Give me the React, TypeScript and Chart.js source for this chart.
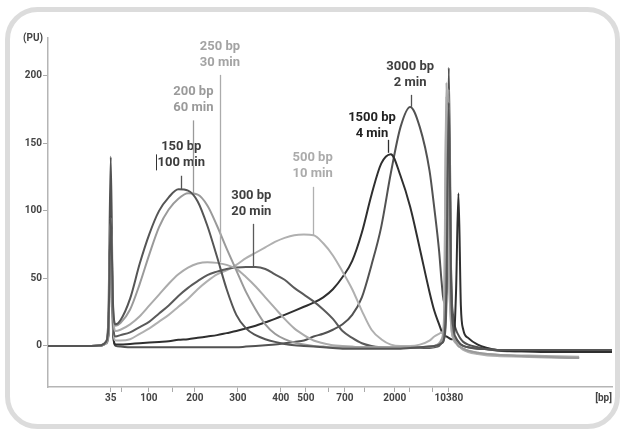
import { useEffect, useRef } from 'react';
import { Chart, registerables } from 'chart.js';

Chart.register(...registerables);

// migration time (s) sample grid
const timeGrid = [27, 30, 33, 36, 38, 39, 39.5, 40, 40.5, 41, 42, 44, 46, 48, 50, 52, 54, 56, 58, 60, 62, 64, 66, 68, 70, 72, 74, 76, 78, 80, 82, 84, 86, 88, 90, 92, 94, 96, 98, 100, 102, 104, 106, 107, 108, 108.5, 109, 109.5, 110, 110.5, 111, 111.5, 112, 112.5, 113, 114, 116, 118, 120, 125, 130, 137, 143.8];

const s150 = [
  0, 0, 0, 0,
  0.5, 3, 14, 96, 28, 16,
  19, 35, 61, 83, 100, 110,
  116, 115, 107, 89, 66, 42,
  23, 13, 8, 5, 3, 1.5,
  0.5, 0, -0.5, -1, -1.5, -2,
  -2, -2, -2, -2, -2, -2,
  -1.5, -1, -0.5, 0, 1, 2,
  5, 40, 180, 40, 12, 6,
  3, 1, 0, -1, -2, -2.5,
  -3, -3, -3, -3, -3,
];
const s200 = [
  0, 0, 0, 0,
  0.5, 3, 12, 95, 26, 15,
  17, 27, 46, 68, 88, 101,
  109, 113, 112, 104, 89, 72,
  56, 40, 27, 16, 9, 5,
  2.5, 1, 0, -0.5, -1, -1,
  -1, -1, -1, -1, -1, -1,
  -1, -1, -0.5, 0, 1.5, 4,
  12, 60, 190, 30, 8, 3,
  0, -1, -2, -3.5, -5, -6,
  -6.5, -7.5, -8, -9, null,
];
const s250 = [
  0, 0, 0, 0,
  0.3, 2, 10, 95, 22, 11,
  12, 16, 22, 30, 38, 46,
  53, 58, 61, 62, 61.5, 60,
  57, 51, 44, 36, 28, 20,
  13, 8, 4, 2, 0.5, 0,
  -0.5, -1, -1, -1, -1, -1,
  -1, -1, -0.5, 0, 2, 5,
  20, 195, 60, 15, 5, 2,
  0, -1, -2, -3.5, -5, -6,
  -6.5, -7, -7.5, -8, null,
];
const s300 = [
  0, 0, 0, 0,
  0.3, 2, 8, 94, 16, 7,
  8, 10, 14, 18, 24, 30,
  37, 43, 48, 52.5, 55, 57,
  58, 58.5, 58.5, 57, 53, 49,
  43, 38, 33, 27, 20, 11,
  6, 2, 0, -1, -1.5, -1.5,
  -1.5, -1.5, -1.5, -1, 0, 2,
  5, 30, 170, 50, 10, 5,
  3, 1, 0, -1, -2, -2.5,
  -3, -3, -3, -3, -3,
];
const s500 = [
  0, 0, 0, 0,
  0.3, 1.5, 6, 93, 12, 4,
  4, 5, 9, 13, 18, 23,
  29, 35, 42, 48, 53, 56,
  60, 65, 69, 73, 77, 80,
  82, 82.5, 82, 76, 67, 55,
  42, 26, 12, 5, 1, 0,
  0, 1, 4, 7, 9, 10,
  14, 185, 60, 15, 5, 2,
  0, -1.5, -3, -4.5, -6, -7,
  -7.5, -8, -8.5, -9, null,
];
const s1500 = [
  0, 0, 0, 0,
  0.3, 2, 8, 96, 8, 1,
  1, 1.5, 2, 2.5, 3, 3.5,
  4.5, 5, 6, 7, 8, 9.5,
  11, 13, 15, 17.5, 20, 23,
  26, 29, 32, 36, 42, 51,
  63, 84, 112, 135, 142, 126,
  103, 72, 40, 26, 16, 11,
  8, 7, 6, 5, 5, 40,
  113, 30, 12, 6, 1, -1.5,
  -3, -4, -4.5, -4.5, -4.5,
];
const s3000 = [
  0, 0, 0, 0,
  0.3, 3, 20, 140, 10, 0,
  -0.5, -1, -1, -1, -1, -1,
  -1, -1, -1, -1, -1, -1,
  -1, -0.5, 0, 0.5, 1, 2,
  3, 4, 7, 9, 12, 16,
  23, 36, 60, 88, 128, 162,
  177, 162, 130, 102, 70, 48,
  32, 40, 206, 50, 20, 12,
  8, 5, 3, 1, -1, -2.5,
  -3.5, -4, -4, -4, -4,
];

const seriesList = [s150, s200, s250, s300, s500, s1500, s3000];
const seriesNames = ['150 bp', '200 bp', '250 bp', '300 bp', '500 bp', '1500 bp', '3000 bp'];
const seriesColors = ['#555555', '#9a9a9a', '#ababab', '#5a5a5a', '#b0b0b0', '#2f2f2f', '#525252'];

// x ticks (time positions) and their bp labels
const xTickPositions = [40, 42.3, 47.9, 52.8, 57.4, 66.3, 75.2, 80.4, 85.1, 88.5, 92.6, 98.8, 101.9, 106.7, 110];
const xTickLabels = ['35', '', '100', '', '200', '300', '400', '500', '', '700', '', '2000', '', '', '10380'];
const yTickValues = [0, 50, 100, 150, 200];

// peak annotations
const labelLine1 = ['150 bp', '200 bp', '250 bp', '300 bp', '500 bp', '1500 bp', '3000 bp'];
const labelLine2 = ['100 min', '60 min', '30 min', '20 min', '10 min', '4 min', '2 min'];
const calloutT = [54.6, 57.1, 62.6, 69.4, 81.8, 97.4, 102.1];
const calloutFromV = [116, 113, 62, 58.5, 81.5, 143, 177];
const calloutToV = [126, 167, 200.7, 90.4, 117.8, 152.6, 185.9];
const labelT = [54.6, 57.1, 62.6, 69.1, 81.8, 94.1, 102.0];
const labelV = [147.6, 188.1, 221.7, 111.1, 139.3, 168.7, 206.9];
const labelColors = ['#3c3c3c', '#9a9a9a', '#a3a3a3', '#404040', '#ababab', '#222222', '#404040'];

const annotPlugin = {
  id: 'annot',
  beforeDraw(chart: any) {
    const { ctx, width, height } = chart;
    ctx.save();
    ctx.fillStyle = '#ffffff';
    ctx.fillRect(0, 0, width, height);
    ctx.strokeStyle = '#dcdcdc';
    ctx.lineWidth = 5;
    ctx.beginPath();
    ctx.roundRect(7.5, 9.5, 610, 417, 30);
    ctx.stroke();
    ctx.restore();
  },
  afterDatasetsDraw(chart: any) {
    const { ctx, chartArea } = chart;
    const xs = chart.scales.x;
    const ys = chart.scales.y;
    ctx.save();
    for (let i = 0; i < labelLine1.length; i++) {
      const px = Math.round(xs.getPixelForValue(calloutT[i])) + 0.5;
      ctx.strokeStyle = seriesColors[i];
      ctx.lineWidth = 1.3;
      ctx.beginPath();
      ctx.moveTo(px, ys.getPixelForValue(calloutFromV[i]));
      ctx.lineTo(px, ys.getPixelForValue(calloutToV[i]));
      ctx.stroke();
      ctx.font = 'bold 13px Roboto';
      ctx.fillStyle = labelColors[i];
      ctx.textAlign = 'center';
      ctx.textBaseline = 'middle';
      const tx = xs.getPixelForValue(labelT[i]);
      const ty = ys.getPixelForValue(labelV[i]);
      ctx.fillText(labelLine1[i], tx, ty);
      ctx.fillText(labelLine2[i], tx, ty + 15.8);
      if (i === 0) {
        const w = ctx.measureText(labelLine2[i]).width;
        const bx = Math.round(tx - w / 2 - 1) + 0.5;
        ctx.strokeStyle = '#333';
        ctx.lineWidth = 1;
        ctx.beginPath();
        ctx.moveTo(bx, ty + 15.8 - 8);
        ctx.lineTo(bx, ty + 15.8 + 8);
        ctx.stroke();
      }
    }
    ctx.font = 'bold 10px Roboto';
    ctx.fillStyle = '#444';
    ctx.textBaseline = 'middle';
    ctx.textAlign = 'right';
    ctx.fillText('(PU)', chartArea.left - 5, chartArea.top);
    ctx.fillText('[bp]', chartArea.right, chartArea.bottom + 11);
    ctx.restore();
  },
};

export default function App() {
  const ref = useRef<HTMLCanvasElement | null>(null);
  useEffect(() => {
    if (!ref.current) return;
    const tickFont = { family: 'Roboto', weight: 'bold' as const, size: 10 };
    const chart = new Chart(ref.current, {
      type: 'line',
      data: {
        datasets: seriesList.map((s, k) => ({
          label: seriesNames[k],
          data: timeGrid.map((t, i) => ({ x: t, y: s[i] })),
          borderColor: seriesColors[k],
          borderWidth: 2,
          pointRadius: 0,
          fill: false,
          spanGaps: false,
          cubicInterpolationMode: 'monotone' as const,
        })),
      },
      options: {
        responsive: false,
        animation: false,
        layout: { padding: { left: 0, top: 38, right: 10, bottom: 0 } },
        plugins: { legend: { display: false }, tooltip: { enabled: false } },
        scales: {
          x: {
            type: 'linear',
            min: 27,
            max: 143.8,
            afterBuildTicks: (scale: any) => {
              scale.ticks = xTickPositions.map((v) => ({ value: v }));
            },
            afterFit: (scale: any) => {
              scale.height = 44;
            },
            ticks: {
              autoSkip: false,
              maxRotation: 0,
              padding: 0,
              color: '#444',
              font: tickFont,
              callback: (_v: any, i: number) => xTickLabels[i],
            },
            grid: { drawOnChartArea: false, drawTicks: true, tickLength: 5, color: '#aaa', lineWidth: 1 },
            border: { display: true, color: '#b5b5b5', width: 1.5 },
          },
          y: {
            type: 'linear',
            min: -30.4,
            max: 228,
            afterBuildTicks: (scale: any) => {
              scale.ticks = yTickValues.map((v) => ({ value: v }));
            },
            afterFit: (scale: any) => {
              scale.width = 48;
            },
            ticks: {
              autoSkip: false,
              padding: 1,
              color: '#444',
              font: tickFont,
              callback: (v: any) => String(v),
            },
            grid: { drawOnChartArea: false, drawTicks: true, tickLength: 5, color: '#aaa', lineWidth: 1 },
            border: { display: true, color: '#b5b5b5', width: 1.5 },
          },
        },
      },
      plugins: [annotPlugin],
    });
    return () => chart.destroy();
  }, []);
  return (
    <div style={{ position: 'absolute', left: 0, top: 0, width: 622, height: 431 }}>
      <canvas ref={ref} width={622} height={431} style={{ display: 'block' }} />
    </div>
  );
}
